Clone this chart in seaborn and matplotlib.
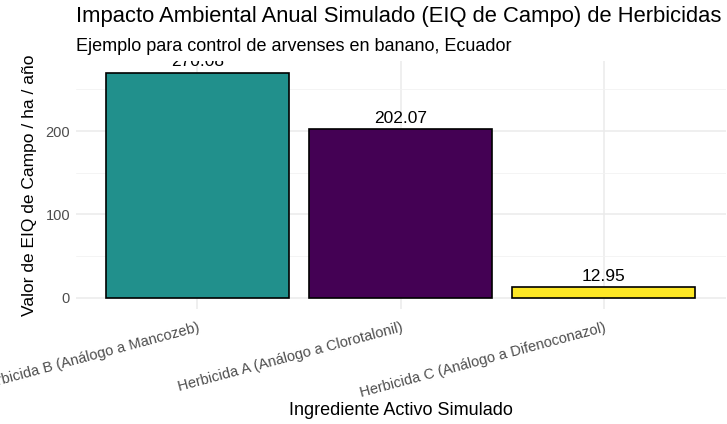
import numpy as np
import pandas as pd
import seaborn as sns
import matplotlib.pyplot as plt
from matplotlib.ticker import MultipleLocator

# Data
herbicidas = ['Herbicida B (Análogo a Mancozeb)',
              'Herbicida A (Análogo a Clorotalonil)',
              'Herbicida C (Análogo a Difenoconazol)']
eiq_campo = [270.08, 202.07, 12.95]
colores = ['#21908C', '#440154', '#FDE725']

df = pd.DataFrame({'herbicida': herbicidas, 'eiq': eiq_campo})

sns.set_theme(style="whitegrid")
plt.rcParams['font.family'] = ['Liberation Sans', 'DejaVu Sans']

fig = plt.figure(figsize=(7.27, 4.24), dpi=100)
ax = fig.add_axes([0.104, 0.271, 0.894, 0.584])

sns.barplot(data=df, x='herbicida', y='eiq', hue='herbicida', palette=colores,
            saturation=1, width=0.9, edgecolor='black', linewidth=1.2,
            legend=False, ax=ax)

for i, v in enumerate(eiq_campo):
    ax.text(i, v + 4, f'{v:.2f}', ha='center', va='bottom', fontsize=12.5,
            color='black', clip_on=True)

ax.set_xlim(-0.6, 2.6)
ax.set_ylim(-0.05 * 270.08, 270.08 * 1.05)
ax.yaxis.set_major_locator(MultipleLocator(100))
ax.yaxis.set_minor_locator(MultipleLocator(50))
ax.grid(which='major', color='#EBEBEB', linewidth=1.1)
ax.grid(which='minor', axis='y', color='#F2F2F2', linewidth=0.6)
ax.set_axisbelow(True)
for s in ax.spines.values():
    s.set_visible(False)

ax.tick_params(axis='both', length=0, colors='#4D4D4D', labelsize=10.5)
ax.tick_params(axis='y', pad=4)
ax.tick_params(axis='x', pad=8)
plt.setp(ax.get_xticklabels(), rotation=15, ha='right', rotation_mode='anchor')

ax.set_xlabel('Ingrediente Activo Simulado', fontsize=13, color='black', labelpad=2)
ax.set_ylabel('Valor de EIQ de Campo / ha / año', fontsize=12.5, color='black', labelpad=6)

fig.text(0.104, 0.985, 'Impacto Ambiental Anual Simulado (EIQ de Campo) de Herbicidas',
         ha='left', va='top', fontsize=15.8, color='black')
fig.text(0.104, 0.91, 'Ejemplo para control de arvenses en banano, Ecuador',
         ha='left', va='top', fontsize=13, color='black')

fig.savefig('out.png', dpi=100)
